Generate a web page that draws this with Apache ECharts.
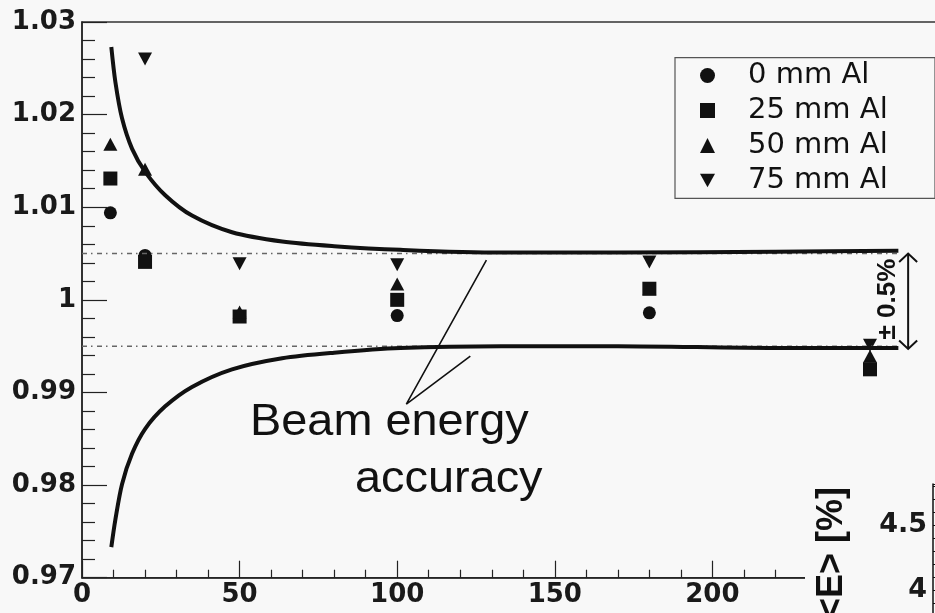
<!DOCTYPE html>
<html>
<head>
<meta charset="utf-8">
<script src="https://cdn.jsdelivr.net/npm/echarts@6/dist/echarts.min.js"></script>
<style>
  html, body { margin: 0; padding: 0; background: #f8f8f8; }
  #chart { width: 935px; height: 613px; }
</style>
</head>
<body>
<div id="chart"></div>
<script>
// Beam energies (GeV) of the measured points
const energies = [9, 20, 50, 100, 180, 250];

// Reconstructed / nominal energy ratio for each absorber thickness
const seriesNames = ['0 mm Al', '25 mm Al', '50 mm Al', '75 mm Al'];
const ratio0mm  = [1.0094, 1.0048, 0.9982, 0.9983, 0.9986, 0.9925];
const ratio25mm = [1.0131, 1.0041, 0.9982, 1.0000, 1.0012, 0.9925];
const ratio50mm = [1.0168, 1.0141, 0.9987, 1.0017, 1.0012, 0.9939];
const ratio75mm = [null,   1.0260, 1.0039, 1.0038, 1.0041, 0.9951];

// Beam energy accuracy envelope
const bandEnergies = [9.3, 10.6, 12.7, 15.9, 20.1, 26.4, 34.9, 47.6, 63.5, 80, 101, 133, 170, 220, 259];
const bandUpper = [1.0273, 1.0235, 1.0196, 1.0163, 1.0138, 1.0113, 1.0091, 1.0073, 1.0063, 1.0058, 1.0054, 1.0051, 1.0051, 1.0052, 1.0053];
const bandLower = [0.9733, 0.9763, 0.9801, 0.9834, 0.9861, 0.9885, 0.9906, 0.9925, 0.9937, 0.9943, 0.9948, 0.9950, 0.9950, 0.9948, 0.9948];

// +-0.5 % reference levels
const toleranceRange = [0, 259];
const toleranceUp = 1.005;
const toleranceDown = 0.995;

// Leader lines from the "Beam energy accuracy" label to the envelope
const leaderPath = [[128.3, 1.0043], [102.9, 0.98875], [123.2, 0.99393]];

// Double arrow marking the +-0.5 % band
const arrowSpan = [[262.1, 1.0050, 0.9947]];

const BG = '#f8f8f8';
const INK = '#111111';
const invTriangle = 'path://M0,0L10,0L5,9Z';

const zip = (xs, ys) => xs.map((x, i) => [x, ys[i]]);

const chart = echarts.init(document.getElementById('chart'), null, { renderer: 'canvas' });

const axisFont = { fontFamily: 'DejaVu Sans', fontWeight: 'bold', fontSize: 26, color: '#1a1a1a' };
const markStyle = { color: INK, opacity: 1 };

chart.setOption({
  backgroundColor: BG,
  animation: false,
  grid: [
    { left: 82, top: 22, width: 945.6, height: 555.7, outerBoundsMode: 'none', containLabel: false,
      show: true, borderColor: '#333', borderWidth: 1.5, backgroundColor: 'transparent' },
    { left: 933, top: 484, width: 100, height: 171, outerBoundsMode: 'none', containLabel: false }
  ],
  xAxis: [
    {
      type: 'value', gridIndex: 0, min: 0, max: 300, interval: 50,
      axisLine: { lineStyle: { color: '#222', width: 1.5 } },
      axisTick: { inside: true, length: 17, lineStyle: { color: '#222', width: 1.2 } },
      minorTick: { show: true, splitNumber: 5, length: 8, lineStyle: { color: '#222', width: 1.2 } },
      splitLine: { show: false },
      axisLabel: Object.assign({ margin: 5 }, axisFont)
    },
    { type: 'value', gridIndex: 1, show: false, min: 0, max: 1 }
  ],
  yAxis: [
    {
      type: 'value', gridIndex: 0, min: 0.97, max: 1.03, interval: 0.01,
      axisLine: { lineStyle: { color: '#222', width: 1.5 } },
      axisTick: { inside: true, length: 25, lineStyle: { color: '#222', width: 1.2 } },
      minorTick: { show: true, splitNumber: 5, length: 13, lineStyle: { color: '#222', width: 1.2 } },
      splitLine: { show: false },
      axisLabel: Object.assign({ margin: 6, formatter: v => String(+v.toFixed(2)) }, axisFont)
    },
    {
      type: 'value', gridIndex: 1, min: 3.5, max: 4.815, interval: 0.5, z: 60,
      axisLine: { lineStyle: { color: INK, width: 1.5 } },
      axisTick: { inside: true, length: 20, lineStyle: { color: INK } },
      minorTick: { show: true, splitNumber: 5, length: 10, lineStyle: { color: INK } },
      splitLine: { show: false },
      axisLabel: Object.assign({ margin: 6, showMaxLabel: false, formatter: v => String(+v.toFixed(1)) }, axisFont, { fontSize: 27 })
    }
  ],
  legend: {
    data: [
      { name: seriesNames[0], icon: 'circle' },
      { name: seriesNames[1], icon: 'rect' },
      { name: seriesNames[2], icon: 'triangle' },
      { name: seriesNames[3], icon: invTriangle }
    ],
    orient: 'vertical', left: 700, top: 58, padding: 0, itemGap: 0,
    itemWidth: 15, itemHeight: 15, selectedMode: false,
    itemStyle: { color: INK, opacity: 1 },
    textStyle: { fontFamily: 'DejaVu Sans', fontSize: 29, color: INK, lineHeight: 35, padding: [0, 0, 0, 28] }
  },
  graphic: [
    // legend frame
    { type: 'rect', shape: { x: 675, y: 57.7, width: 260, height: 140.6 }, style: { fill: 'none', stroke: '#555', lineWidth: 1.2 } },
    // neighbouring panel area
    { type: 'rect', z: 50, shape: { x: 805, y: 470, width: 130, height: 143 }, style: { fill: BG } },
    { type: 'text', z: 55, x: 832, y: 553, rotation: Math.PI / 2,
      style: { text: '<E> [%]', fill: INK, font: 'bold 36px "Liberation Sans"', align: 'center', verticalAlign: 'middle' } },
    // band annotation
    { type: 'text', x: 888, y: 299, rotation: Math.PI / 2,
      style: { text: '± 0.5%', fill: INK, font: 'bold 26px "Liberation Sans"', align: 'center', verticalAlign: 'middle' } },
    { type: 'text', x: 250, y: 423, scaleX: 1.065,
      style: { text: 'Beam energy', fill: INK, font: '44px "Liberation Sans"', align: 'left', verticalAlign: 'middle' } },
    { type: 'text', x: 355, y: 480, scaleX: 1.065,
      style: { text: 'accuracy', fill: INK, font: '44px "Liberation Sans"', align: 'left', verticalAlign: 'middle' } }
  ],
  series: [
    {
      name: 'tolerance-up', type: 'line', symbol: 'none', silent: true,
      data: toleranceRange.map(e => [e, toleranceUp]),
      lineStyle: { color: '#666', width: 1.5, type: [5, 4, 1.5, 4.5] }
    },
    {
      name: 'tolerance-down', type: 'line', symbol: 'none', silent: true,
      data: toleranceRange.map(e => [e, toleranceDown]),
      lineStyle: { color: '#666', width: 1.5, type: [5, 4, 1.5, 4.5] }
    },
    {
      name: 'band-upper', type: 'line', symbol: 'none', smooth: 0.3, silent: true,
      data: zip(bandEnergies, bandUpper), lineStyle: { color: INK, width: 4 }
    },
    {
      name: 'band-lower', type: 'line', symbol: 'none', smooth: 0.3, silent: true,
      data: zip(bandEnergies, bandLower), lineStyle: { color: INK, width: 4 }
    },
    {
      name: 'leader', type: 'line', symbol: 'none', silent: true,
      data: leaderPath, lineStyle: { color: INK, width: 1.6 }
    },
    {
      name: 'band-arrow', type: 'custom', silent: true, data: arrowSpan,
      renderItem: (params, api) => {
        const top = api.coord([api.value(0), api.value(1)]);
        const bot = api.coord([api.value(0), api.value(2)]);
        const w = 9, h = 8.5;
        const st = { stroke: INK, lineWidth: 2, fill: 'none' };
        return {
          type: 'group',
          children: [
            { type: 'line', shape: { x1: top[0], y1: top[1], x2: bot[0], y2: bot[1] }, style: st },
            { type: 'polyline', shape: { points: [[top[0] - w, top[1] + h], top, [top[0] + w, top[1] + h]] }, style: st },
            { type: 'polyline', shape: { points: [[bot[0] - w, bot[1] - h], bot, [bot[0] + w, bot[1] - h]] }, style: st }
          ]
        };
      }
    },
    { name: seriesNames[0], type: 'scatter', symbol: 'circle', symbolSize: 13, itemStyle: markStyle, data: zip(energies, ratio0mm) },
    { name: seriesNames[1], type: 'scatter', symbol: 'rect', symbolSize: 14, itemStyle: markStyle, data: zip(energies, ratio25mm) },
    { name: seriesNames[2], type: 'scatter', symbol: 'triangle', symbolSize: [14, 13], itemStyle: markStyle, data: zip(energies, ratio50mm) },
    { name: seriesNames[3], type: 'scatter', symbol: invTriangle, symbolSize: [14, 13], itemStyle: markStyle,
      data: zip(energies, ratio75mm).filter(p => p[1] !== null) }
  ]
});
</script>
</body>
</html>
